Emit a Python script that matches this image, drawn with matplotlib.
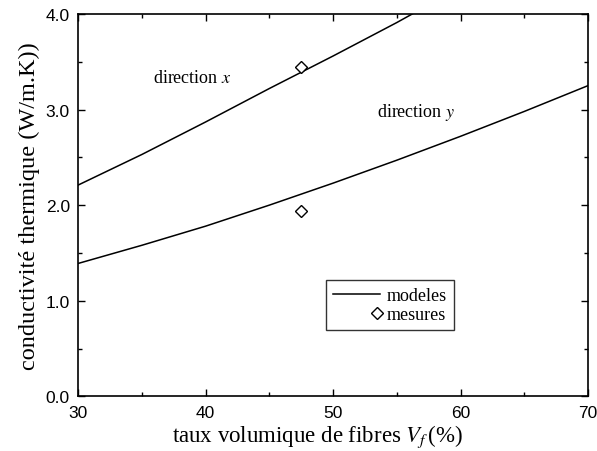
import matplotlib
matplotlib.use("Agg")
import matplotlib.pyplot as plt
from matplotlib.ticker import MultipleLocator, FormatStrFormatter
from matplotlib.legend_handler import HandlerLine2D

plt.rcParams["mathtext.fontset"] = "stix"

vf = [30, 35, 40, 45, 50, 55, 60]
model_x = [2.21, 2.53, 2.87, 3.22, 3.56, 3.91, 4.28]
vf_y = [30, 35, 40, 45, 50, 55, 60, 65, 70]
model_y = [1.39, 1.58, 1.78, 2.00, 2.23, 2.47, 2.72, 2.98, 3.25]
meas_vf = [47.5, 47.5]
meas_k = [3.44, 1.935]

serif = "Liberation Serif"
sans = "Liberation Sans"


class RightMarkerHandler(HandlerLine2D):
    def get_xdata(self, legend, xdescent, ydescent, width, height, fontsize):
        right = -xdescent + width + 2
        return [right - 8, right], [right - 4]


fig = plt.figure(figsize=(5.97, 4.52), dpi=100)
ax = fig.add_axes([0.131, 0.121, 0.854, 0.846])

ax.plot(vf, model_x, color="black", lw=1.1, label="modeles")
ax.plot(vf_y, model_y, color="black", lw=1.1)
meas, = ax.plot(meas_vf, meas_k, linestyle="none", marker="D", markersize=6,
                markerfacecolor="white", markeredgecolor="black", markeredgewidth=1.0,
                label="mesures")

ax.set_xlim(30, 70)
ax.set_ylim(0, 4)
ax.xaxis.set_major_locator(MultipleLocator(10))
ax.xaxis.set_minor_locator(MultipleLocator(5))
ax.yaxis.set_major_locator(MultipleLocator(1.0))
ax.yaxis.set_minor_locator(MultipleLocator(0.5))
ax.yaxis.set_major_formatter(FormatStrFormatter("%.1f"))
ax.tick_params(which="both", direction="in", top=True, right=True, width=1.0)
ax.tick_params(which="major", length=5, pad=6)
ax.tick_params(which="minor", length=3)
for lab in ax.get_xticklabels() + ax.get_yticklabels():
    lab.set_fontfamily(sans)
    lab.set_fontsize(12.5)
for s in ax.spines.values():
    s.set_linewidth(1.2)

ax.set_xlabel(r"taux volumique de fibres $V_f\,$(%)", fontfamily=serif, fontsize=16.5)
ax.xaxis.set_label_coords(0.469, -0.068)
ax.set_ylabel("conductivité thermique (W/m.K))", fontfamily=serif, fontsize=17.5, labelpad=4)

ax.text(35.9, 3.34, r"direction $x$", fontfamily=serif, fontsize=13, va="center", ha="left")
ax.text(53.45, 2.98, r"direction $y$", fontfamily=serif, fontsize=13, va="center", ha="left")

leg = ax.legend(loc="upper left", bbox_to_anchor=((325.7 - 78) / 510, (397 - 281) / 382),
                borderaxespad=0,
                prop={"family": serif, "size": 13}, frameon=True, fancybox=False,
                edgecolor="black", handlelength=2.6, handletextpad=0.4,
                borderpad=0.38, labelspacing=0.12,
                handler_map={meas: RightMarkerHandler(numpoints=1)})
leg.get_frame().set_linewidth(1.0)

fig.savefig("out.png", dpi=100)
